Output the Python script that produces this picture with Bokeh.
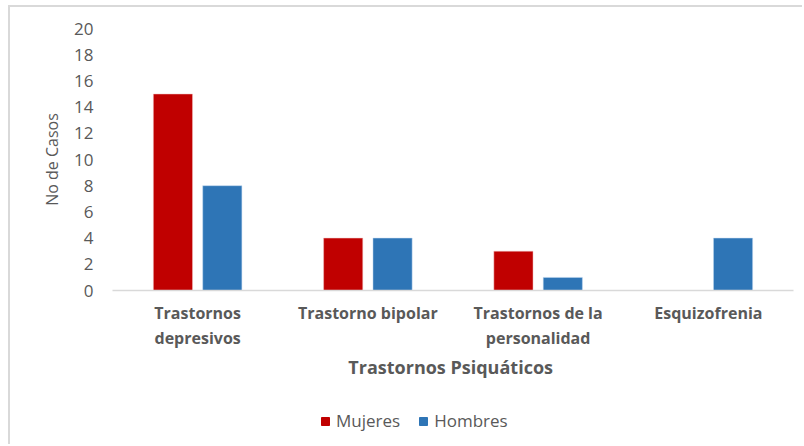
from bokeh.plotting import figure
from bokeh.layouts import column
from bokeh.models import (FactorRange, Legend, LegendItem, ColumnDataSource, CategoricalAxis,
                          CustomJSTickFormatter)
from bokeh.transform import dodge
from bokeh.embed import file_html
from bokeh.resources import INLINE

categories = ["Trastornos depresivos", "Trastorno bipolar", "Trastornos de la personalidad", "Esquizofrenia"]
tick_line1 = ["Trastornos", "Trastorno bipolar", "Trastornos de la", "Esquizofrenia"]
tick_line2 = ["depresivos", "", "personalidad", ""]
mujeres = [15, 4, 3, 0]
hombres = [8, 4, 1, 4]
series_names = ["Mujeres", "Hombres"]
y_ticks = [0, 2, 4, 6, 8, 10, 12, 14, 16, 18, 20]

FONT = "Open Sans"
GRAY = "#595959"
RED = "#C00000"
BLUE = "#2E75B6"

src = ColumnDataSource(dict(cat=categories, mujeres=mujeres, hombres=hombres))

p = figure(width=792, height=380, x_range=FactorRange(factors=categories, range_padding=0),
           y_range=(0, 20), output_backend="svg", toolbar_location=None,
           min_border_left=102, min_border_right=9, min_border_top=21, min_border_bottom=97)
p.outline_line_color = None
p.background_fill_color = "white"
p.border_fill_color = "white"
p.grid.grid_line_color = None

r1 = p.vbar(x=dodge("cat", -0.145, range=p.x_range), top="mujeres", width=0.23, source=src,
            fill_color=RED, line_color="#f0c0c0", line_width=0.5)
r2 = p.vbar(x=dodge("cat", 0.145, range=p.x_range), top="hombres", width=0.23, source=src,
            fill_color=BLUE, line_color="#c0d8f0", line_width=0.5)

def label_formatter(cats, labels):
    return CustomJSTickFormatter(args=dict(cats=cats, labels=labels),
                                 code="const i = cats.indexOf(tick); return i >= 0 ? labels[i] : '';")

# x axis, first line of labels
xa = p.xaxis[0]
xa.formatter = label_formatter(categories, tick_line1)
xa.axis_line_color = "#d9d9d9"
xa.axis_line_width = 1.5
xa.major_tick_line_color = None
xa.minor_tick_line_color = None
xa.major_label_text_font = FONT
xa.major_label_text_font_style = "bold"
xa.major_label_text_font_size = "16px"
xa.major_label_text_color = GRAY
xa.major_label_standoff = 5

# second line of labels + axis title
xb = CategoricalAxis(formatter=label_formatter(categories, tick_line2))
xb.axis_line_color = None
xb.major_tick_line_color = None
xb.minor_tick_line_color = None
xb.major_label_text_font = FONT
xb.major_label_text_font_style = "bold"
xb.major_label_text_font_size = "16px"
xb.major_label_text_color = GRAY
xb.major_label_standoff = -6
xb.axis_label = "Trastornos  Psiquáticos"
xb.axis_label_text_font = FONT
xb.axis_label_text_font_style = "bold"
xb.axis_label_text_font_size = "18px"
xb.axis_label_text_color = GRAY
xb.axis_label_standoff = 3
p.add_layout(xb, "below")

# y axis
ya = p.yaxis[0]
ya.ticker = y_ticks
ya.axis_line_color = None
ya.major_tick_line_color = None
ya.minor_tick_line_color = None
ya.major_label_text_font = FONT
ya.major_label_text_font_size = "17px"
ya.major_label_text_color = GRAY
ya.major_label_standoff = 13
ya.axis_label = "No de Casos"
ya.axis_label_text_font = FONT
ya.axis_label_text_font_style = "normal"
ya.axis_label_text_font_size = "16px"
ya.axis_label_text_color = GRAY
ya.axis_label_standoff = 8

# legend strip (separate figure so the legend is not clipped)
lf = figure(width=792, height=57, x_range=FactorRange(factors=categories), y_range=(100, 101),
            output_backend="svg", toolbar_location=None, x_axis_type=None, y_axis_type=None,
            min_border=0)
lf.outline_line_color = None
lf.grid.grid_line_color = None
lf.background_fill_color = "white"
lf.border_fill_color = "white"
l1 = lf.vbar(x="cat", top="mujeres", width=0.23, source=src, fill_color=RED, line_color=RED)
l2 = lf.vbar(x="cat", top="hombres", width=0.23, source=src, fill_color=BLUE, line_color=BLUE)
legend = Legend(items=[LegendItem(label=series_names[0], renderers=[l1]),
                       LegendItem(label=series_names[1], renderers=[l2])],
                orientation="horizontal", location=(208, 12), margin=0, padding=0,
                label_text_font=FONT, label_text_font_size="17px", label_text_color=GRAY,
                glyph_width=10, glyph_height=10, spacing=18, label_standoff=6,
                border_line_color=None, background_fill_alpha=0)
lf.add_layout(legend, "center")

layout = column(p, lf, spacing=0)
layout.styles = {"border-top": "2px solid #d9d9d9", "border-left": "2px solid #d9d9d9",
                 "margin-left": "8px", "margin-top": "5px"}

open("out.html", "w").write(file_html(layout, INLINE))
